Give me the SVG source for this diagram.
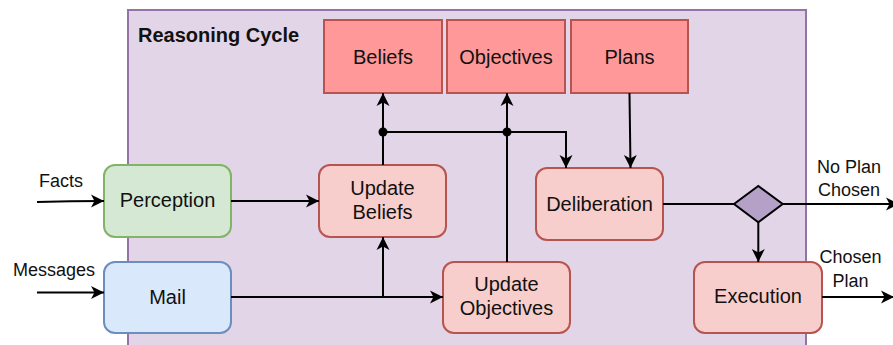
<svg xmlns="http://www.w3.org/2000/svg" width="893" height="345" viewBox="0 0 893 345">
<style>
text{font-family:"Liberation Sans",Arial,sans-serif;fill:#111;}
.n{font-size:20px;text-anchor:middle;}
.l{font-size:18px;text-anchor:middle;}
.t{font-size:20px;font-weight:bold;}
.store{fill:#ff9999;stroke:#b85450;stroke-width:2;}
.upd{fill:#f8cecc;stroke:#b85450;stroke-width:2;}
.green{fill:#d5e8d4;stroke:#82b366;stroke-width:2;}
.blue{fill:#dae8fc;stroke:#6c8ebf;stroke-width:2;}
.c{fill:none;stroke:#000;stroke-width:2;}
.a{marker-end:url(#arr);}
</style>
<defs>
<marker id="arr" markerUnits="userSpaceOnUse" markerWidth="14" markerHeight="14" viewBox="0 0 14 14" refX="13" refY="7" orient="auto">
<path d="M0,0.5 L13,7 L0,13.5 L3.5,7 Z" fill="#000"/>
</marker>
</defs>
<g id="reasoning-cycle">
<rect x="128" y="10" width="678" height="345" fill="#e1d5e7" stroke="#9673a6" stroke-width="2"/>
<text class="t" x="138" y="41.5">Reasoning Cycle</text>
</g>
<g id="beliefs"><rect class="store" x="324" y="20" width="118" height="73"/><text class="n" x="383" y="63.5">Beliefs</text></g>
<g id="objectives"><rect class="store" x="447" y="20" width="118" height="73"/><text class="n" x="506" y="63.5">Objectives</text></g>
<g id="plans"><rect class="store" x="571" y="20" width="117" height="73"/><text class="n" x="629.5" y="63.5">Plans</text></g>
<g id="perception"><rect class="green" x="104" y="165" width="127" height="72" rx="11"/><text class="n" x="167.5" y="207">Perception</text></g>
<g id="mail"><rect class="blue" x="104" y="262" width="127" height="71" rx="11"/><text class="n" x="167.5" y="303.5">Mail</text></g>
<g id="update-beliefs"><rect class="upd" x="319" y="165" width="127" height="72" rx="11"/><text class="n" x="382.5" y="195">Update</text><text class="n" x="382.5" y="219">Beliefs</text></g>
<g id="update-objectives"><rect class="upd" x="443" y="262" width="127" height="71" rx="11"/><text class="n" x="506.5" y="291">Update</text><text class="n" x="506.5" y="315">Objectives</text></g>
<g id="deliberation"><rect class="upd" x="536" y="168" width="127" height="72" rx="11"/><text class="n" x="599.5" y="210.5">Deliberation</text></g>
<g id="execution"><rect class="upd" x="694" y="262" width="128" height="71" rx="11"/><text class="n" x="758" y="303">Execution</text></g>
<g id="decision"><polygon points="734,204 758.3,186 782.7,204 758.3,222.3" fill="#b5a1c8" stroke="#000" stroke-width="2"/></g>
<g id="connectors">
<path class="c a" d="M37,202 Q70,201 104,201"/>
<path class="c a" d="M37,292.5 L104,292.5"/>
<path class="c a" d="M231,201 L319,201"/>
<path class="c a" d="M231,297 L443,297"/>
<path class="c a" d="M383,297 L383,237"/>
<path class="c a" d="M383,165 L383,93"/>
<path class="c a" d="M383,132 L566,132 L566,168"/>
<path class="c a" d="M507,262 L507,93"/>
<path class="c a" d="M629.5,93 L630.5,168"/>
<path class="c" d="M663,204 L734,204"/>
<path class="c a" d="M782.7,204 L899,204"/>
<path class="c a" d="M758.3,222.3 L758.3,262"/>
<path class="c a" d="M822,297 L894,297"/>
<circle cx="383" cy="132" r="4.5" fill="#000"/>
<circle cx="507" cy="132" r="4.5" fill="#000"/>
<text class="l" x="61" y="186.5">Facts</text>
<text class="l" x="54" y="276">Messages</text>
<text class="l" x="849" y="173">No Plan</text>
<text class="l" x="849" y="196">Chosen</text>
<text class="l" x="850.5" y="263">Chosen</text>
<text class="l" x="850.5" y="286.5">Plan</text>
</g>
</svg>
